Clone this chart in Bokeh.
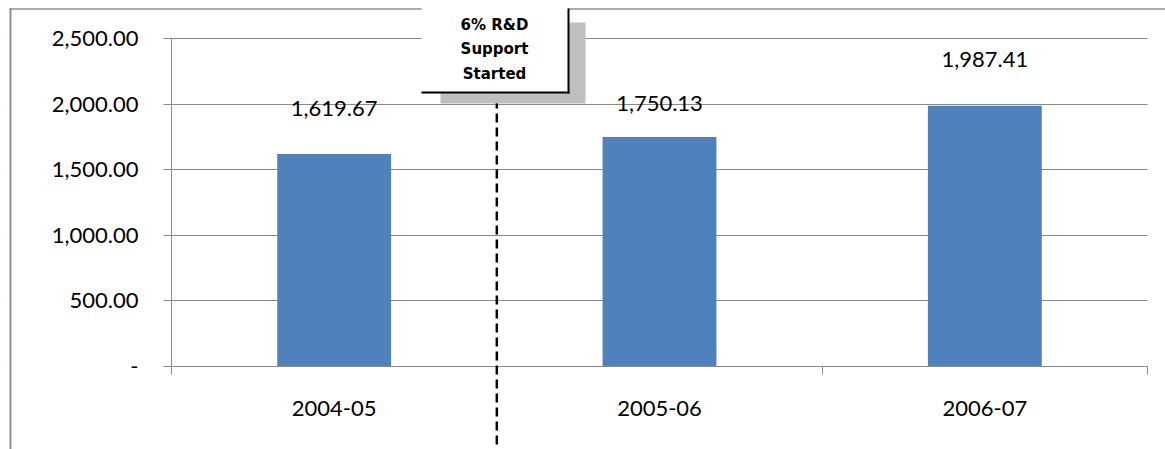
from bokeh.plotting import figure
from bokeh.models import (ColumnDataSource, FixedTicker, Range1d, Label, Arrow,
                          BoxAnnotation)
from bokeh.core.properties import value
from bokeh.embed import file_html
from bokeh.resources import INLINE

# ---- data ----
categories = ["2004-05", "2005-06", "2006-07"]
values = [1619.67, 1750.13, 1987.41]
y_ticks = [0, 500, 1000, 1500, 2000, 2500]
y_tick_labels = ["-", "500.00", "1,000.00", "1,500.00", "2,000.00", "2,500.00"]
annotation_lines = ["6% R&D", "Support", "Started"]
milestone_x = 1.0  # boundary between 2004-05 and 2005-06

# ---- layout / style ----
W, H = 1165, 449
PLOT_L, PLOT_R, PLOT_T, PLOT_B = 171, 1147, 38, 366   # pixel box of the data area
Y_MAX = 2500
X_MAX = len(categories)
SX = X_MAX / (PLOT_R - PLOT_L)
SY = Y_MAX / (PLOT_B - PLOT_T)
FONT = "Lato"
GRID = "#8a8a8a"
BORDER = "#8f8f8f"
BAR = "#4F81BD"


def x_of(px):
    return (px - PLOT_L) * SX


def y_of(py):
    return (PLOT_B - py) * SY


x = [i + 0.5 for i in range(len(categories))]
labels = [f"{v:,.2f}" for v in values]
label_offsets = [-45, -33, -46]

src = ColumnDataSource(dict(x=x, top=values, label=labels, off=label_offsets))

p = figure(width=W, height=H,
           x_range=Range1d(x_of(0), x_of(W)), y_range=Range1d(y_of(H), y_of(0)),
           output_backend="svg", toolbar_location=None,
           min_border_left=0, min_border_right=0, min_border_top=0, min_border_bottom=0)
p.outline_line_color = None
p.background_fill_color = "white"
p.border_fill_color = "white"

# grid (clipped visually by white underlay boxes outside the data area)
p.xgrid.visible = False
p.ygrid.ticker = FixedTicker(ticks=y_ticks)
p.ygrid.grid_line_color = GRID
p.add_layout(BoxAnnotation(left=x_of(-10), right=0, bottom=y_of(H + 10), top=y_of(-10),
                           fill_color="white", fill_alpha=1, line_color=None, level="underlay"))
p.add_layout(BoxAnnotation(left=X_MAX, right=x_of(W + 10), bottom=y_of(H + 10), top=y_of(-10),
                           fill_color="white", fill_alpha=1, line_color=None, level="underlay"))

p.vbar(x="x", top="top", width=0.35, source=src, fill_color=BAR, line_color=None)
p.text(x="x", y="top", text="label", y_offset="off", source=src,
       text_align="center", text_baseline="middle",
       text_font=value(FONT), text_font_size="22px", text_color="black")

# y axis
p.yaxis.fixed_location = 0
p.yaxis.bounds = (0, Y_MAX)
p.yaxis.ticker = FixedTicker(ticks=y_ticks)
p.yaxis.major_label_overrides = {t: l for t, l in zip(y_ticks, y_tick_labels)}
p.yaxis.major_tick_out = 8
p.yaxis.major_tick_in = 0
p.yaxis.minor_tick_out = 0
p.yaxis.minor_tick_in = 0
p.yaxis.major_label_standoff = 25
p.yaxis.axis_line_color = GRID
p.yaxis.major_tick_line_color = GRID
p.yaxis.major_label_text_font = FONT
p.yaxis.major_label_text_font_size = "22px"
p.yaxis.major_label_text_color = "black"

# x axis
p.xaxis.fixed_location = 0
p.xaxis.bounds = (0, X_MAX)
p.xaxis.ticker = FixedTicker(ticks=x, minor_ticks=list(range(len(categories) + 1)))
p.xaxis.major_label_overrides = {xx: c for xx, c in zip(x, categories)}
p.xaxis.major_tick_out = 0
p.xaxis.major_tick_in = 0
p.xaxis.minor_tick_out = 8
p.xaxis.minor_tick_in = 0
p.xaxis.minor_tick_line_color = GRID
p.xaxis.axis_line_color = GRID
p.xaxis.major_label_standoff = 26
p.xaxis.major_label_text_font = FONT
p.xaxis.major_label_text_font_size = "22px"
p.xaxis.major_label_text_color = "black"

# chart border (left and top)
p.add_layout(Arrow(end=None, x_start=x_of(10), y_start=y_of(8), x_end=x_of(10), y_end=y_of(H + 5),
                   line_color=BORDER, line_width=2))
p.add_layout(Arrow(end=None, x_start=x_of(9), y_start=y_of(8.5), x_end=x_of(W + 5), y_end=y_of(8.5),
                   line_color=BORDER, line_width=1.5))

# milestone dashed line
p.add_layout(Arrow(end=None, x_start=milestone_x, y_start=y_of(85), x_end=milestone_x, y_end=y_of(H + 5),
                   line_color="black", line_width=2.5, line_dash="9 5"))

# callout: shadow, box, edges
p.add_layout(BoxAnnotation(left=x_of(440), right=x_of(585), bottom=y_of(103), top=y_of(22),
                           fill_color="#BFBFBF", fill_alpha=1, line_color=None))
p.add_layout(BoxAnnotation(left=x_of(421), right=x_of(568), bottom=y_of(92), top=y_of(-10),
                           fill_color="white", fill_alpha=1, line_color=None))
p.add_layout(Arrow(end=None, x_start=x_of(568), y_start=y_of(8), x_end=x_of(568), y_end=y_of(93),
                   line_color="black", line_width=2))
p.add_layout(Arrow(end=None, x_start=x_of(421), y_start=y_of(92), x_end=x_of(569), y_end=y_of(92),
                   line_color="black", line_width=2))

for i, line in enumerate(annotation_lines):
    p.add_layout(Label(x=x_of(494), y=y_of(24 + 24.5 * i), text=line,
                       text_align="center", text_baseline="middle",
                       text_font="DejaVu Sans", text_font_style="bold",
                       text_font_size="15px", text_color="black"))

open("out.html", "w").write(file_html(p, INLINE))
